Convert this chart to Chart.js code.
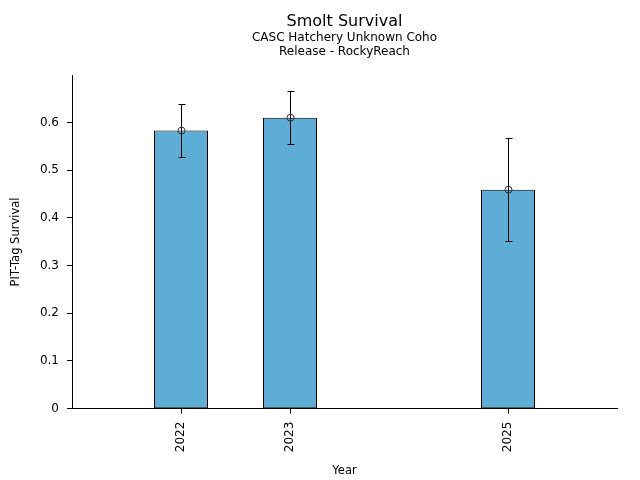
<!DOCTYPE html>
<html>
<head>
<meta charset="utf-8">
<script src="https://cdn.jsdelivr.net/npm/chart.js@4"></script>
<style>
  html, body { margin: 0; padding: 0; background: #fff; }
  canvas { display: block; }
</style>
</head>
<body>
<canvas id="survivalChart" width="640" height="480"></canvas>
<script>
const years = [2022, 2023, 2025];
const survival = [0.583, 0.610, 0.459];
const errLow = [0.527, 0.554, 0.352];
const errHigh = [0.638, 0.665, 0.568];
const yTicks = [0, 0.1, 0.2, 0.3, 0.4, 0.5, 0.6];

const errorBars = {
    id: 'errorBars',
    afterDatasetsDraw(chart) {
        const ctx = chart.ctx;
        const xs = chart.scales.x;
        const ys = chart.scales.y;
        ctx.save();
        ctx.lineWidth = 1;
        years.forEach(function(yr, i) {
            const px = Math.round(xs.getPixelForValue(yr)) + 0.5;
            const top = Math.round(ys.getPixelForValue(errHigh[i])) + 0.5;
            const bot = Math.round(ys.getPixelForValue(errLow[i])) + 0.5;
            ctx.strokeStyle = '#000';
            ctx.beginPath();
            ctx.moveTo(px, top);
            ctx.lineTo(px, bot);
            ctx.moveTo(px - 3, top);
            ctx.lineTo(px + 4, top);
            ctx.moveTo(px - 3, bot);
            ctx.lineTo(px + 4, bot);
            ctx.stroke();
            // open marker at the estimate
            ctx.strokeStyle = '#333';
            ctx.beginPath();
            ctx.arc(px, ys.getPixelForValue(survival[i]), 3.5, 0, Math.PI * 2);
            ctx.stroke();
        });
        ctx.restore();
    }
};

const ctx = document.getElementById('survivalChart').getContext('2d');
Chart.defaults.font.family = 'DejaVu Sans';
Chart.defaults.color = '#000';

new Chart(ctx, {
    type: 'bar',
    data: {
        datasets: [{
            label: 'Survival',
            data: years.map(function(yr, i) { return { x: yr, y: survival[i] }; }),
            backgroundColor: '#5dadd6',
            borderColor: '#000',
            borderWidth: 1,
            borderSkipped: false,
            inflateAmount: 0,
            barThickness: 54
        }]
    },
    options: {
        responsive: false,
        animation: false,
        devicePixelRatio: 1,
        layout: { padding: { left: 5, right: 23, top: 0, bottom: 0 } },
        plugins: {
            legend: { display: false },
            tooltip: { enabled: false },
            title: {
                display: true,
                fullSize: false,
                text: 'Smolt Survival',
                font: { size: 16, weight: 'normal' },
                padding: { top: 12, bottom: 0 }
            },
            subtitle: {
                display: true,
                fullSize: false,
                text: ['CASC Hatchery Unknown Coho', 'Release - RockyReach'],
                font: { size: 12, weight: 'normal', lineHeight: 1.17 },
                padding: { top: 0, bottom: 16 }
            }
        },
        scales: {
            x: {
                type: 'linear',
                min: 2021,
                max: 2026,
                offset: false,
                afterBuildTicks: function(axis) {
                    axis.ticks = years.map(function(v) { return { value: v }; });
                },
                ticks: {
                    minRotation: 90,
                    maxRotation: 90,
                    font: { size: 12 },
                    padding: 8,
                    callback: function(v) { return String(v); }
                },
                grid: {
                    offset: false,
                    drawOnChartArea: false,
                    drawTicks: true,
                    tickLength: 5,
                    tickColor: '#000'
                },
                border: { display: true, color: '#000' },
                title: {
                    display: true,
                    text: 'Year',
                    font: { size: 11.5 },
                    padding: { top: 4, bottom: 2 }
                }
            },
            y: {
                min: 0,
                max: 0.699,
                afterFit: function(axis) {
                    // pin the plot's left edge to a whole pixel so bar outlines stay crisp
                    axis.width = 67;
                },
                afterBuildTicks: function(axis) {
                    axis.ticks = yTicks.map(function(v) { return { value: v }; });
                },
                ticks: {
                    font: { size: 12 },
                    padding: 8,
                    callback: function(v) { return String(Math.round(v * 10) / 10); }
                },
                grid: {
                    drawOnChartArea: false,
                    drawTicks: true,
                    tickLength: 5,
                    tickColor: '#000'
                },
                border: { display: true, color: '#000' },
                title: {
                    display: true,
                    text: 'PIT-Tag Survival',
                    font: { size: 11.5 },
                    padding: { top: 4, bottom: 10 }
                }
            }
        }
    },
    plugins: [errorBars]
});
</script>
</body>
</html>
